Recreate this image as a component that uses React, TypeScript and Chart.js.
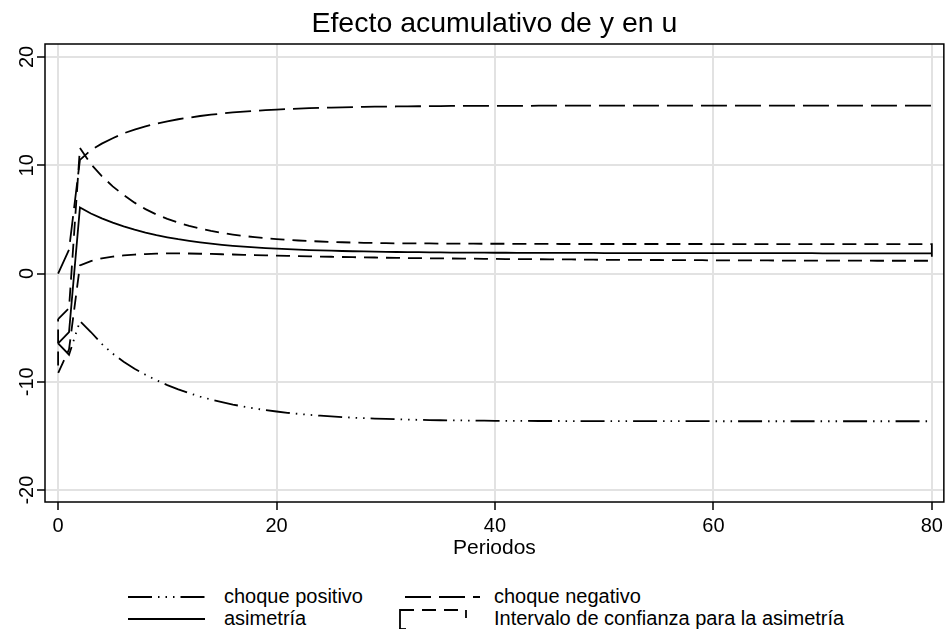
import React, { useEffect, useRef } from "react";
import { Chart, registerables } from "chart.js";

Chart.register(...registerables);

const FONT = "'Liberation Sans', Arial, Helvetica, sans-serif";

const chartTitle = "Efecto acumulativo de y en u";
const xAxisTitle = "Periodos";
const xTicks = [0, 20, 40, 60, 80];
const yTicks = [-20, -10, 0, 10, 20];

const periods = [
  0, 1, 2, 3, 4, 5, 6, 7, 8, 9,
  10, 11, 12, 13, 14, 15, 16, 17, 18, 19,
  20, 21, 22, 23, 24, 25, 26, 27, 28, 29,
  30, 31, 32, 33, 34, 35, 36, 37, 38, 39,
  40, 41, 42, 43, 44, 45, 46, 47, 48, 49,
  50, 51, 52, 53, 54, 55, 56, 57, 58, 59,
  60, 61, 62, 63, 64, 65, 66, 67, 68, 69,
  70, 71, 72, 73, 74, 75, 76, 77, 78, 79,
  80,
];

const choquePositivo = [
  -6.45, -7.5, -4.4, -5.4, -6.5, -7.4, -8.15, -8.8, -9.35, -9.85,
  -10.3, -10.7, -11.05, -11.36, -11.64, -11.88, -12.1, -12.29, -12.46, -12.61,
  -12.74, -12.86, -12.96, -13.05, -13.13, -13.2, -13.26, -13.31, -13.36, -13.4,
  -13.43, -13.46, -13.49, -13.51, -13.53, -13.55, -13.56, -13.57, -13.58, -13.59,
  -13.6, -13.6, -13.61, -13.61, -13.62, -13.62, -13.62, -13.63, -13.63, -13.63,
  -13.63, -13.63, -13.63, -13.63, -13.63, -13.63, -13.63, -13.63, -13.63, -13.63,
  -13.64, -13.64, -13.64, -13.64, -13.64, -13.64, -13.64, -13.64, -13.64, -13.64,
  -13.64, -13.64, -13.64, -13.64, -13.64, -13.64, -13.64, -13.64, -13.64, -13.64,
  -13.64,
];

const choqueNegativo = [
  0, 2.2, 10.5, 11.4, 12.0, 12.5, 12.95, 13.3, 13.6, 13.85,
  14.05, 14.25, 14.4, 14.55, 14.67, 14.78, 14.88, 14.96, 15.03, 15.09,
  15.14, 15.19, 15.23, 15.27, 15.3, 15.33, 15.35, 15.37, 15.39, 15.41,
  15.42, 15.43, 15.44, 15.45, 15.46, 15.47, 15.48, 15.48, 15.48, 15.49,
  15.49, 15.49, 15.49, 15.49, 15.5, 15.5, 15.5, 15.5, 15.5, 15.5,
  15.5, 15.5, 15.5, 15.5, 15.5, 15.5, 15.5, 15.5, 15.5, 15.5,
  15.5, 15.5, 15.5, 15.5, 15.5, 15.5, 15.5, 15.5, 15.5, 15.5,
  15.5, 15.5, 15.5, 15.5, 15.5, 15.5, 15.5, 15.5, 15.5, 15.5,
  15.5,
];

const asimetria = [
  -6.45, -5.4, 6.1, 5.55, 5.1, 4.7, 4.35, 4.05, 3.78, 3.55,
  3.35, 3.17, 3.02, 2.88, 2.76, 2.65, 2.56, 2.48, 2.41, 2.35,
  2.3, 2.25, 2.21, 2.17, 2.14, 2.11, 2.08, 2.06, 2.04, 2.02,
  2.0, 1.99, 1.98, 1.97, 1.96, 1.95, 1.94, 1.94, 1.93, 1.93,
  1.92, 1.92, 1.91, 1.91, 1.91, 1.9, 1.9, 1.9, 1.9, 1.9,
  1.89, 1.89, 1.89, 1.89, 1.89, 1.89, 1.89, 1.89, 1.89, 1.89,
  1.88, 1.88, 1.88, 1.88, 1.88, 1.88, 1.88, 1.88, 1.88, 1.88,
  1.87, 1.87, 1.87, 1.87, 1.87, 1.87, 1.87, 1.87, 1.87, 1.87,
  1.87,
];

const icSuperior = [
  -4.2, -3.2, 11.6, 10.1, 9.0, 8.05, 7.25, 6.55, 5.95, 5.45,
  5.05, 4.7, 4.4, 4.15, 3.93, 3.75, 3.6, 3.47, 3.36, 3.26,
  3.18, 3.11, 3.05, 3.0, 2.96, 2.92, 2.89, 2.86, 2.84, 2.82,
  2.8, 2.79, 2.79, 2.78, 2.78, 2.77, 2.77, 2.76, 2.76, 2.75,
  2.75, 2.75, 2.74, 2.74, 2.74, 2.74, 2.73, 2.73, 2.73, 2.73,
  2.73, 2.73, 2.73, 2.73, 2.73, 2.73, 2.73, 2.73, 2.73, 2.73,
  2.72, 2.72, 2.72, 2.72, 2.72, 2.72, 2.72, 2.72, 2.72, 2.72,
  2.72, 2.72, 2.72, 2.72, 2.72, 2.72, 2.72, 2.72, 2.72, 2.72,
  2.72,
];

const icInferior = [
  -9.2, -7.0, 0.75, 1.15, 1.4, 1.56, 1.67, 1.75, 1.8, 1.84,
  1.86, 1.86, 1.85, 1.83, 1.81, 1.78, 1.76, 1.73, 1.71, 1.68,
  1.66, 1.63, 1.61, 1.59, 1.57, 1.55, 1.53, 1.51, 1.49, 1.48,
  1.46, 1.45, 1.43, 1.42, 1.41, 1.4, 1.39, 1.38, 1.37, 1.36,
  1.35, 1.34, 1.33, 1.33, 1.32, 1.31, 1.3, 1.3, 1.29, 1.28,
  1.27, 1.27, 1.26, 1.26, 1.25, 1.25, 1.24, 1.24, 1.23, 1.23,
  1.22, 1.22, 1.22, 1.21, 1.21, 1.21, 1.2, 1.2, 1.2, 1.2,
  1.19, 1.19, 1.19, 1.19, 1.19, 1.18, 1.18, 1.18, 1.18, 1.18,
  1.18,
];

const legendLabels = [
  "choque positivo",
  "choque negativo",
  "asimetría",
  "Intervalo de confianza para la asimetría",
];

const DASH_POS = [24, 6, 1.5, 6, 1.5, 6, 1.5, 6];
const DASH_NEG = [26, 8];
const DASH_CI = [14, 8];
const LW = 1.8;

const framePlugin = {
  id: "frame",
  afterDraw(chart: any) {
    const { ctx, chartArea } = chart;
    ctx.save();
    ctx.strokeStyle = "#000";
    ctx.lineWidth = 1.5;
    ctx.setLineDash([]);
    ctx.strokeRect(chartArea.left, chartArea.top, chartArea.right - chartArea.left, chartArea.bottom - chartArea.top);
    ctx.restore();
  },
};

function App() {
  const ref = useRef<HTMLCanvasElement | null>(null);

  useEffect(() => {
    if (!ref.current) return;
    const pts = (ys: number[]) => periods.map((x, i) => ({ x, y: ys[i] }));
    const ciPolygon = [
      ...periods.map((x, i) => ({ x, y: icSuperior[i] })),
      ...periods.map((x, i) => ({ x, y: icInferior[i] })).reverse(),
      { x: periods[0], y: icSuperior[0] },
    ];
    const base = {
      borderColor: "#000",
      borderWidth: LW,
      pointRadius: 0,
      tension: 0,
      fill: false,
    };
    const chart = new Chart(ref.current, {
      type: "line",
      data: {
        datasets: [
          { ...base, label: legendLabels[3], data: ciPolygon, borderDash: DASH_CI, order: 4 },
          { ...base, label: legendLabels[0], data: pts(choquePositivo), borderDash: DASH_POS, order: 3 },
          { ...base, label: legendLabels[1], data: pts(choqueNegativo), borderDash: DASH_NEG, order: 2 },
          { ...base, label: legendLabels[2], data: pts(asimetria), order: 1 },
        ] as any,
      },
      options: {
        animation: false,
        responsive: false,
        devicePixelRatio: 1,
        layout: { padding: { left: 0, right: 1, top: 0, bottom: 0 } },
        plugins: {
          legend: { display: false },
          tooltip: { enabled: false },
          title: {
            display: true,
            fullSize: false,
            text: chartTitle,
            color: "#000",
            font: { family: FONT, size: 28.5, weight: "normal" as any },
            padding: { top: 7.5, bottom: 2.3 },
          },
        },
        scales: {
          x: {
            type: "linear",
            min: -1.2,
            max: 81.1,
            afterBuildTicks: (axis: any) => {
              axis.ticks = xTicks.map((v) => ({ value: v }));
            },
            afterFit: (axis: any) => {
              axis.height = 73;
            },
            ticks: {
              color: "#000",
              font: { family: FONT, size: 20 },
              padding: 4,
              maxRotation: 0,
              minRotation: 0,
              autoSkip: false,
            },
            grid: {
              color: "#e2e2e2",
              lineWidth: 2,
              tickColor: "#000",
              tickLength: 8,
              tickWidth: 1.5,
            },
            border: { display: false },
            title: {
              display: true,
              text: xAxisTitle,
              color: "#000",
              font: { family: FONT, size: 21 },
              padding: { top: 0, bottom: 14 },
            },
          },
          y: {
            type: "linear",
            min: -21.1,
            max: 21.2,
            afterBuildTicks: (axis: any) => {
              axis.ticks = yTicks.map((v) => ({ value: v }));
            },
            afterFit: (axis: any) => {
              axis.width = 45;
            },
            ticks: {
              color: "#000",
              font: { family: FONT, size: 20 },
              padding: -5,
              minRotation: 90,
              maxRotation: 90,
              crossAlign: "center",
              autoSkip: false,
            },
            grid: {
              color: "#e2e2e2",
              lineWidth: 2,
              tickColor: "#000",
              tickLength: 8,
              tickWidth: 1.5,
            },
            border: { display: false },
          },
        },
      },
      plugins: [framePlugin],
    });
    return () => chart.destroy();
  }, []);

  const textStyle: React.CSSProperties = {
    position: "absolute",
    fontFamily: FONT,
    fontSize: 20,
    color: "#000",
    lineHeight: "22px",
    whiteSpace: "nowrap",
  };

  const lineSym = (left: number, top: number, width: number, dash: number[]) => (
    <svg style={{ position: "absolute", left, top }} width={width} height={6}>
      <line
        x1={0}
        y1={3}
        x2={width}
        y2={3}
        stroke="#000"
        strokeWidth={LW}
        strokeDasharray={dash.length ? dash.join(" ") : undefined}
      />
    </svg>
  );

  const row1 = 597;
  const row2 = 619;

  return (
    <div style={{ position: "fixed", left: 0, top: 0, width: 947, height: 629, background: "#fff", overflow: "hidden" }}>
      <canvas ref={ref} width={947} height={575} style={{ position: "absolute", left: 0, top: 0, width: 947, height: 575 }} />
      {lineSym(128, row1 - 3, 77, DASH_POS)}
      <div style={{ ...textStyle, left: 224, top: row1 - 12 }}>{legendLabels[0]}</div>
      {lineSym(405, row1 - 3, 75, DASH_NEG)}
      <div style={{ ...textStyle, left: 494, top: row1 - 12 }}>{legendLabels[1]}</div>
      {lineSym(128, row2 - 3, 77, [])}
      <div style={{ ...textStyle, left: 224, top: row2 - 12 }}>{legendLabels[2]}</div>
      <svg style={{ position: "absolute", left: 399, top: row2 - 10 }} width={70} height={24}>
        <line x1={1} y1={1} x2={67} y2={1} stroke="#000" strokeWidth={LW} strokeDasharray={DASH_CI.join(" ")} />
        <line x1={1} y1={0.1} x2={1} y2={20} stroke="#000" strokeWidth={LW} />
        <line x1={0.1} y1={20} x2={7} y2={20} stroke="#000" strokeWidth={LW} />
        <line x1={67} y1={1} x2={67} y2={9} stroke="#000" strokeWidth={LW} />
      </svg>
      <div style={{ ...textStyle, left: 494, top: row2 - 12 }}>{legendLabels[3]}</div>
    </div>
  );
}

export default App;
